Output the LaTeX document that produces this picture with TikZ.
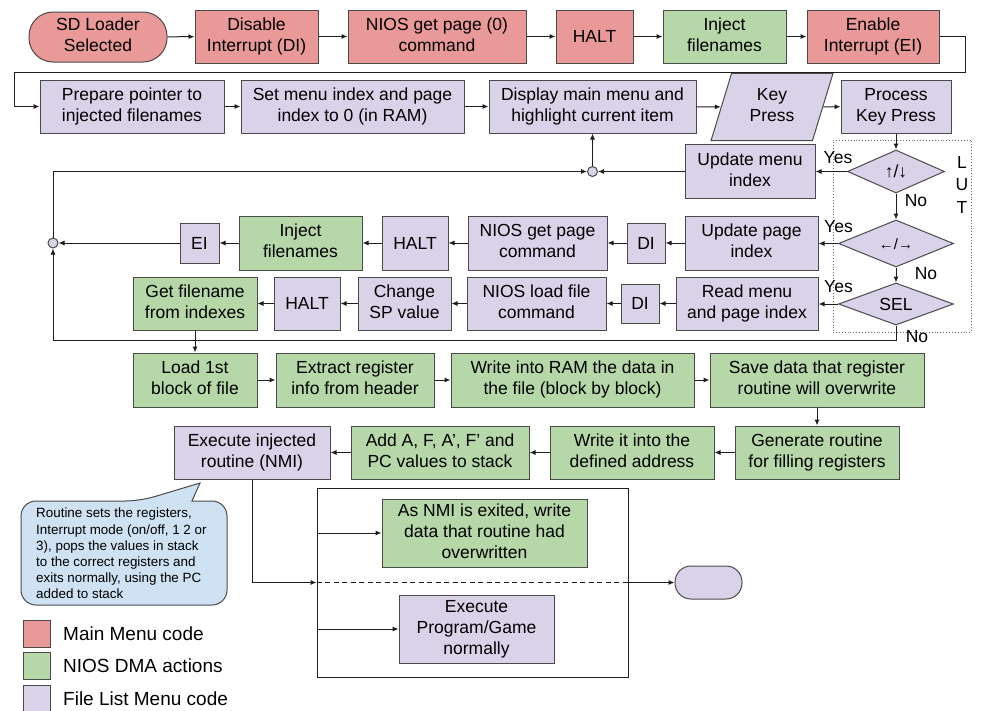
\documentclass[tikz,border=0pt]{standalone}
\usepackage{fontspec}
\setmainfont{Liberation Sans}
\usetikzlibrary{shapes.geometric,arrows.meta}
\definecolor{mainred}{HTML}{EA9999}
\definecolor{niosgreen}{HTML}{B6D7A8}
\definecolor{listpurple}{HTML}{D9D2E9}
\definecolor{noteblue}{HTML}{CFE2F3}
\definecolor{edge}{HTML}{4A4A4A}
\definecolor{wire}{HTML}{1E1E1E}
% strut that centres capital letters vertically in a box:
% 16.5pt above the baseline, 4pt below it
\newcommand{\capstrut}{\rule[-4pt]{0pt}{20.5pt}}
\begin{document}
\begin{tikzpicture}[x=1pt,y=-1pt,
  every node/.style={font=\fontsize{17.5}{21}\selectfont,text=black},
  box/.style={draw=edge,line width=1pt,align=center,inner sep=0pt,
    execute at begin node=\capstrut,execute at end node=\capstrut},
  sz/.style 2 args={minimum width=#1pt,minimum height=#2pt},
  mm/.style={box,fill=mainred},
  dma/.style={box,fill=niosgreen},
  fl/.style={box,fill=listpurple},
  choice/.style={fl,diamond,aspect=2.5},
  junction/.style={circle,draw=edge,fill=listpurple,line width=1pt,inner sep=0pt,minimum size=10pt},
  flow/.style={draw=wire,line width=1pt,-{Latex[length=6pt,width=5pt]}},
  link/.style={draw=wire,line width=1pt},
  lbl/.style={inner sep=0pt}]

\useasboundingbox (0,0) rectangle (982,710);

% ---------- main menu start ----------
\node[mm,sz={138}{50},rounded corners=24pt] (sd) at (98,37) {SD Loader\\Selected};
\node[mm,sz={123}{53}] (di0) at (256.5,36.5) {Disable\\Interrupt (DI)};
\node[mm,sz={178}{53}] (nios0) at (437,36.5) {NIOS get page (0)\\command};
\node[mm,sz={77}{53}] (halt0) at (594.5,36.5) {HALT};
\node[dma,sz={123}{53}] (inj0) at (724.5,36.5) {Inject\\filenames};
\node[mm,sz={132}{53}] (ei0) at (873,36.5) {Enable\\Interrupt (EI)};

\draw[flow] (sd) -- (di0);
\draw[flow] (di0) -- (nios0);
\draw[flow] (nios0) -- (halt0);
\draw[flow] (halt0) -- (inj0);
\draw[flow] (inj0) -- (ei0);

% ---------- file list menu ----------
\node[fl,sz={184}{53}] (prep) at (132,106.5) {Prepare pointer to\\injected filenames};
\node[fl,sz={223}{53}] (setidx) at (352.5,106.5) {Set menu index and page\\index to 0 (in RAM)};
\node[fl,sz={207}{53}] (disp) at (592.5,106.5) {Display main menu and\\highlight current item};
\node[fl,trapezium,trapezium left angle=73,trapezium right angle=107,sz={122}{60}] (key) at (772,107) {Key\\Press};
\node[fl,sz={110}{53}] (proc) at (896,106.5) {Process\\Key Press};

\draw[flow] (ei0.east) -- (965,36.5) |- (14,72) |- (prep.west);
\draw[flow] (prep) -- (setidx);
\draw[flow] (setidx) -- (disp);
\draw[flow] (disp) -- (key);
\draw[flow] (key) -- (proc);

% lookup table of keys
\node[draw=edge!80,dotted,line width=0.9pt,minimum width=138pt,minimum height=192pt,inner sep=0pt] (lut) at (902,236) {};
\node[lbl] (lutL) at (962,162) {L};
\node[lbl] (lutU) at (962,185) {U};
\node[lbl] (lutT) at (962,207) {T};

\node[choice,sz={97}{43}] (d1) at (896,171.5) {↑/↓};
\node[choice,sz={115}{47}] (d2) at (896,243.5) {\fontsize{15}{18}\selectfont ←/→};
\node[choice,sz={115}{42}] (d3) at (896,304) {SEL};

\draw[flow] (proc) -- (d1);
\draw[flow] (d1) -- (d2);
\draw[flow] (d2) -- (d3);

\node[lbl] (yes1) at (838,158) {Yes};
\node[lbl] (yes2) at (838.5,227) {Yes};
\node[lbl] (yes3) at (838.5,287) {Yes};
\node[lbl] (no1) at (916,201) {No};
\node[lbl] (no2) at (926,274) {No};
\node[lbl] (no3) at (917,337) {No};

% up / down
\node[fl,sz={130}{54}] (updmenu) at (750,171.5) {Update menu\\index};
\node[junction] (c2) at (592.5,171.5) {};
\draw[flow] (d1) -- (updmenu);
\draw[flow] (updmenu) -- (c2);
\draw[flow] (c2) -- (disp);

% left / right
\node[fl,sz={133}{54}] (updpage) at (751.5,243) {Update page\\index};
\node[fl,sz={38}{40}] (di1) at (646,243) {DI};
\node[fl,sz={139}{54}] (niosg) at (537.5,243) {NIOS get page\\command};
\node[fl,sz={66}{54}] (halt1) at (415,243) {HALT};
\node[dma,sz={123}{54}] (inj1) at (300.5,243) {Inject\\filenames};
\node[fl,sz={39}{40}] (ei1) at (199.5,243) {EI};
\node[junction] (c1) at (53,243) {};

\draw[flow] (d2.west) -- (updpage.east |- d2.west);
\draw[flow] (updpage) -- (di1);
\draw[flow] (di1) -- (niosg);
\draw[flow] (niosg) -- (halt1);
\draw[flow] (halt1) -- (inj1);
\draw[flow] (inj1) -- (ei1);
\draw[flow] (ei1) -- (c1);
\draw[flow] (c1.north) |- (c2.west);

% select
\node[fl,sz={142}{53}] (readm) at (747,303.5) {Read menu\\and page index};
\node[fl,sz={38}{39}] (di2) at (640,303.5) {DI};
\node[fl,sz={139}{53}] (niosl) at (536.5,303.5) {NIOS load file\\command};
\node[fl,sz={93}{53}] (chsp) at (404.5,303.5) {Change\\SP value};
\node[fl,sz={66}{53}] (halt2) at (307,303.5) {HALT};
\node[dma,sz={124}{53}] (getfn) at (195,303.5) {Get filename\\from indexes};

\draw[flow] (d3.west) -- (readm.east |- d3.west);
\draw[flow] (readm) -- (di2);
\draw[flow] (di2) -- (niosl);
\draw[flow] (niosl) -- (chsp);
\draw[flow] (chsp) -- (halt2);
\draw[flow] (halt2) -- (getfn);
\draw[flow] (d3.south) -- (896,340) -| (c1.south);

% ---------- loading the file ----------
\node[dma,sz={124}{54}] (load) at (195,380) {Load 1st\\block of file};
\node[dma,sz={158}{54}] (extract) at (355,380) {Extract register\\info from header};
\node[dma,sz={243}{54}] (writeram) at (572.5,380) {Write into RAM the data in\\the file (block by block)};
\node[dma,sz={214}{54}] (save) at (817,380) {Save data that register\\routine will overwrite};

\draw[flow] (getfn) -- (load);
\draw[flow] (load) -- (extract);
\draw[flow] (extract) -- (writeram);
\draw[flow] (writeram) -- (save);

\node[dma,sz={164}{53}] (gen) at (817,452.5) {Generate routine\\for filling registers};
\node[dma,sz={164}{53}] (writeit) at (632,452.5) {Write it into the\\defined address};
\node[dma,sz={178}{53}] (addaf) at (440,452.5) {Add A, F, A’, F’ and\\PC values to stack};
\node[fl,sz={156}{53}] (exec) at (252,452.5) {Execute injected\\routine (NMI)};

\draw[flow] (save) -- (gen);
\draw[flow] (gen) -- (writeit);
\draw[flow] (writeit) -- (addaf);
\draw[flow] (addaf) -- (exec);

% ---------- after the NMI ----------
\node[draw=wire,line width=1pt,fill=white,sz={311}{189},inner sep=0pt] (nmibox) at (472.5,582.5) {};
\node[dma,sz={205}{68}] (restore) at (484.5,533) {As NMI is exited, write\\data that routine had\\overwritten};
\node[fl,sz={155}{68}] (run) at (476.5,629) {Execute\\Program/Game\\normally};
\node[fl,sz={67}{33},rounded corners=16pt] (term) at (708.5,582.5) {};

\draw[flow] (exec.south) |- (nmibox.west);
\draw[link,dash pattern=on 5pt off 3.5pt] (nmibox.west) -- (nmibox.east);
\draw[flow] (nmibox.east) -- (term);
\draw[flow] (nmibox.west |- restore.west) -- (restore.west);
\draw[flow] (nmibox.west |- run.west) -- (run.west);

% note on the injected routine
\draw[draw=edge,fill=noteblue,line width=1pt]
  (140,501) -- (200,483) -- (192,501)
  [rounded corners=15pt] -- (227,501) -- (227,605) -- (21,605) -- (21,501) -- cycle;
\node[lbl,anchor=west,align=left,font=\fontsize{13.4}{16.2}\selectfont] (note) at (36,553.5)
  {Routine sets the registers,\\Interrupt mode (on/off, 1 2 or\\3), pops the values in stack\\to the correct registers and\\exits normally, using the PC\\added to stack};

% ---------- legend ----------
\node[draw=edge,fill=mainred,line width=1pt,sz={27}{27},inner sep=0pt] (kred) at (36.5,633.5) {};
\node[draw=edge,fill=niosgreen,line width=1pt,sz={27}{27},inner sep=0pt] (kgreen) at (36.5,666) {};
\node[draw=edge,fill=listpurple,line width=1pt,sz={27}{27},inner sep=0pt] (kpurple) at (36.5,699) {};
\node[lbl,anchor=west,font=\fontsize{19}{22}\selectfont] (tred) at (63,633.5) {Main Menu code};
\node[lbl,anchor=west,font=\fontsize{19}{22}\selectfont] (tgreen) at (63,666) {NIOS DMA actions};
\node[lbl,anchor=west,font=\fontsize{19}{22}\selectfont] (tpurple) at (63,698.5) {File List Menu code};
\end{tikzpicture}
\end{document}
